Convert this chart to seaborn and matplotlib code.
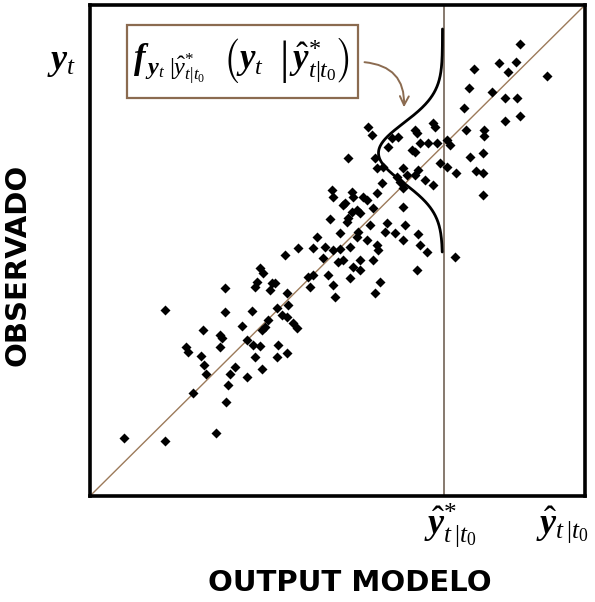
import numpy as np
import pandas as pd
import matplotlib
matplotlib.use('Agg')
import matplotlib.pyplot as plt
from matplotlib.patches import Rectangle
import seaborn as sns

# Scatter data (arbitrary units, no ticks in the original)
points = [
    (430,448),(409,429),(426,430),(418,420),(384,423),(457,416),(379,404),(402,400),(415,394),(427,394),
    (374,384),(415,371),(430,376),(376,362),(394,362),(394,356),(357,352),(360,347),(380,335),(393,339),
    (366,319),(386,321),(393,319),(393,297),(365,235),(350,329),(357,325),(343,369),(345,365),
    (335,312),(343,307),(325,317),(317,317),(307,315),(313,304),(313,285),(315,267),(297,269),(305,259),
    (313,252),(328,258),(330,247),(337,240),(327,222),(292,309),(295,260),
    (278,365),(282,357),(258,334),(285,334),(287,324),(293,325),(298,345),(302,354),(308,355),(325,362),
    (327,359),(322,342),(330,349),(338,349),(347,349),(325,340),(313,324),(328,322),(310,310),(287,299),
    (262,300),(263,295),(273,295),(277,292),(255,289),(267,282),(283,284),
    (242,302),(243,295),(253,287),(262,280),(270,279),(258,274),(257,270),(240,273),(280,267),(268,260),
    (267,255),(250,259),(227,255),(195,237),(208,244),(223,244),(235,245),(243,242),(250,243),(260,245),
    (277,252),(287,247),(288,242),(233,234),(248,230),(253,232),(270,232),(283,232),(263,225),(270,222),
    (218,215),(223,217),(238,217),(260,214),(220,205),(243,207),(290,210),(197,199),(245,195),(285,199),
    (170,224),(173,219),(167,210),(165,205),(182,209),(185,209),(180,202),(135,204),(187,184),(198,187),
    (192,177),(197,175),(135,180),(162,181),(178,172),(175,165),(172,162),(203,169),(207,164),(152,166),
    (113,162),(130,157),(132,154),(157,152),(163,147),(170,146),(188,147),(130,145),(197,139),(165,135),
    (187,135),
    (75,182),(96,145),(98,140),(111,136),(114,127),(116,118),(145,125),(140,118),(138,107),(103,99),
    (136,90),(34,54),(75,51),(126,59),(172,123),(157,115),
]
modelo = [p[0] for p in points]
observado = [p[1] for p in points]

x_forecast = 354      # position of y-hat* (vertical line)
dens_center = 339     # centre of conditional density
dens_sd = 30
dens_amp = 64

xlabel = "OUTPUT MODELO"
ylabel = "OBSERVADO"

sns.set_style('white')
plt.rcParams['font.family'] = ['DejaVu Sans']
plt.rcParams['text.color'] = 'black'
plt.rcParams['mathtext.fontset'] = 'custom'
plt.rcParams['mathtext.rm'] = 'Liberation Serif'
plt.rcParams['mathtext.it'] = 'Liberation Serif:italic'
plt.rcParams['mathtext.bf'] = 'Liberation Serif:bold'
plt.rcParams['mathtext.bfit'] = 'Liberation Serif:italic:bold'

fig = plt.figure(figsize=(5.95, 6.02), dpi=100)
ax = fig.add_axes([90/595, (602-496)/602, 495/595, 491/602])

df = pd.DataFrame({'modelo': modelo, 'observado': observado})
sns.scatterplot(data=df, x='modelo', y='observado', marker='D', color='black',
                s=26, linewidth=0, ax=ax, zorder=3, legend=False)
ax.set_xlim(0, 495)
ax.set_ylim(-4, 487)
ax.set_xticks([]); ax.set_yticks([])
ax.set_xlabel(''); ax.set_ylabel('')
for sp in ax.spines.values():
    sp.set_linewidth(2.6)
    sp.set_color('black')

ax.plot([0, 1], [0, 1], transform=ax.transAxes, color='#9c7a5a', lw=1.0, zorder=2)
ax.axvline(x_forecast, color='#7d6e62', lw=1.3, zorder=2)

yy = np.linspace(240, 463, 400)
xx = x_forecast - 1.5 - dens_amp*np.exp(-0.5*((yy-dens_center)/dens_sd)**2)
ax.plot(xx, yy, color='black', lw=2.0, zorder=4)

# formula box
ax.add_patch(Rectangle((0.0747, 0.8106), 0.467, 0.1487, transform=ax.transAxes,
                       facecolor='white', edgecolor='#8b6b50', lw=1.6, zorder=5))
ax.text(0.306, 0.884,
        r'$\mathbfit{f}_{\,\mathbfit{y}_t\;|\hat{y}^{*}_{t|t_0}}\ \ '
        r'\left(\mathbfit{y}_t\ \ \left|\,\hat{\mathbfit{y}}^{*}_{t|t_0}\right.\right)$',
        transform=ax.transAxes, ha='center', va='center', fontsize=25, zorder=6)

ax.annotate('', xy=(0.634, 0.786), xytext=(0.549, 0.884),
            xycoords='axes fraction', textcoords='axes fraction',
            arrowprops=dict(arrowstyle='->', color='#8b6b50', lw=1.4,
                            connectionstyle='arc3,rad=-0.5', mutation_scale=16),
            zorder=6)

fig.text(62/595, 1-62/602, r'$\mathbfit{y}_t$', fontsize=26, ha='center', va='center')
fig.text(450/595, 1-525/602, r'$\hat{\mathbfit{y}}^{*}_{t\,|t_0}$', fontsize=26, ha='center', va='center')
fig.text(562/595, 1-525/602, r'$\hat{\mathbfit{y}}_{t\,|t_0}$', fontsize=26, ha='center', va='center')

fig.text(350/595, 1-583/602, xlabel, fontsize=21, fontweight='bold', ha='center', va='center')
fig.text(18/595, 1-265/602, ylabel, fontsize=21, fontweight='bold', ha='center', va='center',
         rotation=90)

fig.savefig('out.png', dpi=100)
